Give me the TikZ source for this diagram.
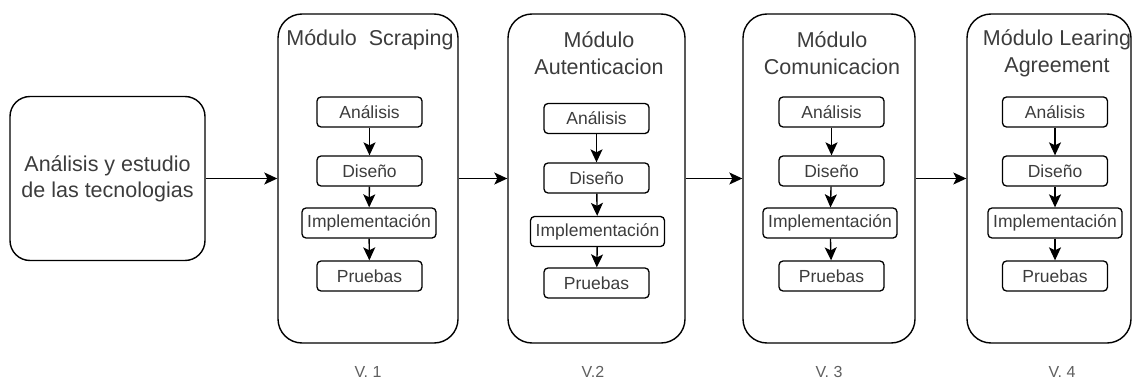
\documentclass[tikz,border=0pt]{standalone}
\usepackage{fontspec}
\setmainfont{Liberation Sans}
\usetikzlibrary{arrows.meta}
\definecolor{txt}{RGB}{60,60,60}
\definecolor{vtxt}{RGB}{95,95,95}
\begin{document}
\begin{tikzpicture}[x=1pt,y=-1pt,
  bigbox/.style={draw=black, line width=1.4pt, rounded corners=20pt, inner sep=0pt,
    minimum width=195pt, minimum height=164pt, align=center, text=txt,
    font=\fontsize{21.5}{26}\selectfont},
  module/.style={draw=black, line width=1.4pt, rounded corners=24pt, inner sep=0pt,
    minimum height=329pt},
  stepbox/.style={draw=black, line width=1.3pt, rounded corners=4pt, inner sep=0pt,
    minimum height=30pt, minimum width=105pt, text=txt,
    font=\fontsize{17.5}{20}\selectfont},
  implbox/.style={stepbox, minimum width=134pt},
  title/.style={align=center, text=txt, inner sep=0pt,
    font=\fontsize{21.5}{27}\selectfont},
  arr/.style={draw=black, line width=1.4pt, -{Stealth[length=13pt,width=12pt,inset=3pt]}},
  ver/.style={text=vtxt, inner sep=0pt, font=\fontsize{16}{18}\selectfont}
]
\useasboundingbox (0,0) rectangle (1135,380);

% left box
\node[bigbox] (intro) at (107.5,178.5) {Análisis y estudio\\de las tecnologias};

% modules
\node[module, minimum width=180pt] (m1) at (368,178.5) {};
\node[module, minimum width=177pt] (m2) at (596.5,178.5) {};
\node[module, minimum width=172pt] (m3) at (829,178.5) {};
\node[module, minimum width=164pt] (m4) at (1049,178.5) {};

% titles
\node[title] (t1) at (370,40) {Módulo\ \ Scraping};
\node[title] (t2) at (599,53.5) {Módulo\\Autenticacion};
\node[title] (t3) at (832,53.5) {Módulo\\Comunicacion};
\node[title] (t4) at (1057,53.5) {Módulo Learing\\Agreement};

% module 1 steps
\node[stepbox] (a1) at (369.5,112) {Análisis};
\node[stepbox] (d1) at (369.5,171) {Diseño};
\node[implbox] (i1) at (369,223) {Implementación};
\node[stepbox] (p1) at (369.5,276) {Pruebas};

% module 2 steps
\node[stepbox] (a2) at (596.5,118.5) {Análisis};
\node[stepbox] (d2) at (596.5,178) {Diseño};
\node[implbox] (i2) at (597.5,231.5) {Implementación};
\node[stepbox] (p2) at (596.5,283) {Pruebas};

% module 3 steps
\node[stepbox] (a3) at (831.5,112) {Análisis};
\node[stepbox] (d3) at (831.5,171) {Diseño};
\node[implbox] (i3) at (830,223) {Implementación};
\node[stepbox] (p3) at (831.5,276) {Pruebas};

% module 4 steps
\node[stepbox] (a4) at (1055,112) {Análisis};
\node[stepbox] (d4) at (1055,171) {Diseño};
\node[implbox] (i4) at (1055,223) {Implementación};
\node[stepbox] (p4) at (1055,276) {Pruebas};

% step arrows
\foreach \k in {1,2,3,4}{
  \draw[arr] (a\k) -- (d\k);
  \draw[arr] (d\k) -- (i\k);
  \draw[arr] (i\k) -- (p\k);
}

% main arrows
\draw[arr] (intro.east) -- (m1.west);
\draw[arr] (m1.east) -- (m2.west);
\draw[arr] (m2.east) -- (m3.west);
\draw[arr] (m3.east) -- (m4.west);

% version labels
\node[ver] (v1) at (368,372) {V. 1};
\node[ver] (v2) at (593,372) {V.2};
\node[ver] (v3) at (829,372) {V. 3};
\node[ver] (v4) at (1062,372) {V. 4};
\end{tikzpicture}
\end{document}
